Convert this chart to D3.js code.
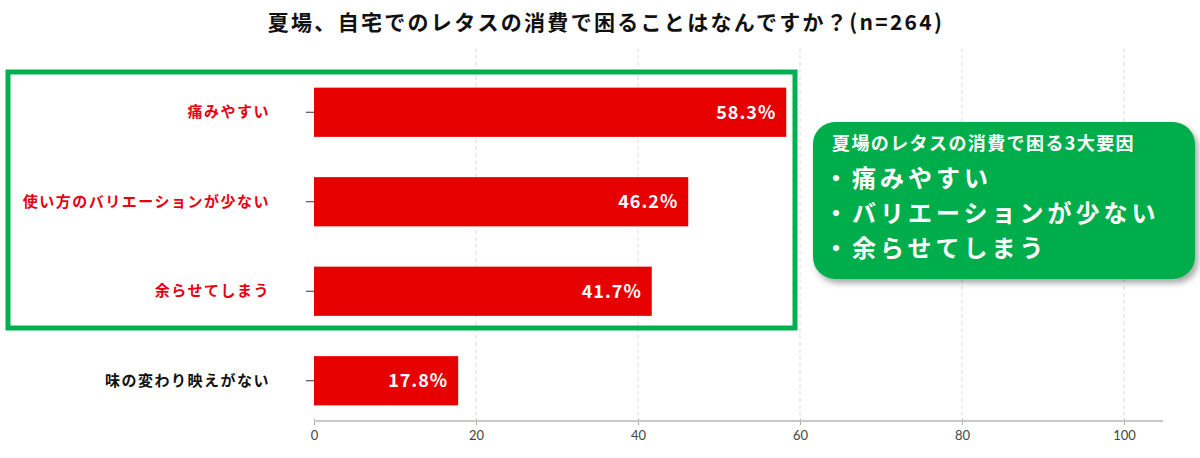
<!DOCTYPE html>
<html>
<head>
<meta charset="utf-8">
<script src="https://cdn.jsdelivr.net/npm/d3@7"></script>
<style>
  body { margin: 0; background: #fff; }
  text { font-family: "Noto Sans CJK JP", "Noto Sans", sans-serif; }
</style>
</head>
<body>
<div id="chart"></div>
<script>
var svgWidth = 1200;
var svgHeight = 458;

// data
var categories = ["痛みやすい", "使い方のバリエーションが少ない", "余らせてしまう", "味の変わり映えがない"];
var values = [58.3, 46.2, 41.7, 17.8];
var highlighted = [true, true, true, false];
var xTicks = [0, 20, 40, 60, 80, 100];
var boxLines = ["・痛みやすい", "・バリエーションが少ない", "・余らせてしまう"];

var data = categories.map((c, i) => ({ name: c, value: values[i], hi: highlighted[i] }));

var svg = d3.select("#chart")
    .append("svg")
    .attr("width", svgWidth)
    .attr("height", svgHeight);

var defs = svg.append("defs");
var shadow = defs.append("filter").attr("id", "shadow")
    .attr("x", "-10%").attr("y", "-10%").attr("width", "130%").attr("height", "130%");
shadow.append("feDropShadow")
    .attr("dx", 3).attr("dy", 4).attr("stdDeviation", 3)
    .attr("flood-color", "#000").attr("flood-opacity", 0.35);

var xScale = d3.scaleLinear()
    .domain([0, 100])
    .range([314, 1124]);

var yScale = d3.scaleBand()
    .domain(categories)
    .range([67.5, 425.5])
    .paddingInner(0.45)
    .paddingOuter(0.225);

var axisY = 421;

// title
svg.append("text")
    .attr("x", 606)
    .attr("y", 30)
    .attr("text-anchor", "middle")
    .attr("font-size", "21px")
    .attr("font-weight", "bold")
    .attr("letter-spacing", "2.3px")
    .attr("fill", "#111")
    .text("夏場、自宅でのレタスの消費で困ることはなんですか？(n=264)");

// dashed grid
svg.append("g")
    .selectAll("line")
    .data(xTicks.slice(1))
    .enter()
    .append("line")
    .attr("x1", d => xScale(d))
    .attr("x2", d => xScale(d))
    .attr("y1", 48)
    .attr("y2", axisY)
    .attr("stroke", "#dcdcdc")
    .attr("stroke-dasharray", "4,3");

// bottom axis
var bottomAxis = d3.axisBottom(xScale).tickValues(xTicks).tickSize(6).tickSizeOuter(0);
var xAxisG = svg.append("g")
    .attr("transform", `translate(0, ${axisY})`)
    .call(bottomAxis);
xAxisG.select(".domain").remove();
xAxisG.append("line")
    .attr("x1", xScale(0)).attr("x2", 1163)
    .attr("stroke", "#c8c8c8").attr("stroke-width", 2);
xAxisG.selectAll(".tick line").attr("stroke", "#aaa").attr("y1", -2).attr("y2", 4);
xAxisG.selectAll(".tick text")
    .attr("y", 10)
    .attr("font-size", "13px")
    .attr("fill", "#444")
    .style("font-family", "Lato, 'Noto Sans', sans-serif");

// left axis ticks
var leftAxis = d3.axisLeft(yScale).tickSize(8).tickPadding(36);
var yAxisG = svg.append("g")
    .attr("transform", `translate(${xScale(0)}, 0)`)
    .call(leftAxis);
yAxisG.select(".domain").remove();
yAxisG.selectAll(".tick line").attr("stroke", "#333");
yAxisG.selectAll(".tick text")
    .attr("font-size", "15px")
    .attr("font-weight", "bold")
    .attr("letter-spacing", "1.5px")
    .attr("fill", (d, i) => highlighted[i] ? "#e60012" : "#111");

// bars
svg.append("g")
    .selectAll("rect")
    .data(data)
    .enter()
    .append("rect")
    .attr("x", xScale(0))
    .attr("y", d => yScale(d.name))
    .attr("width", d => xScale(d.value) - xScale(0))
    .attr("height", yScale.bandwidth())
    .attr("fill", "#e60000");

// value labels
svg.append("g")
    .selectAll("text")
    .data(data)
    .enter()
    .append("text")
    .attr("x", d => xScale(d.value) - 10)
    .attr("y", d => yScale(d.name) + yScale.bandwidth() / 2)
    .attr("dy", "0.36em")
    .attr("text-anchor", "end")
    .attr("font-size", "18px")
    .attr("font-weight", "bold")
    .attr("letter-spacing", "1px")
    .attr("fill", "#fff")
    .text(d => d.value.toFixed(1) + "%");

// green highlight frame
svg.append("rect")
    .attr("x", 8)
    .attr("y", 72)
    .attr("width", 787)
    .attr("height", 256)
    .attr("fill", "none")
    .attr("stroke", "#00b050")
    .attr("stroke-width", 5);

// callout box
var box = svg.append("g");
box.append("rect")
    .attr("x", 813)
    .attr("y", 122)
    .attr("width", 382)
    .attr("height", 157)
    .attr("rx", 22)
    .attr("fill", "#00ad4c")
    .attr("filter", "url(#shadow)");
box.append("text")
    .attr("x", 832)
    .attr("y", 150)
    .attr("font-size", "18px")
    .attr("font-weight", "bold")
    .attr("letter-spacing", "1.4px")
    .attr("fill", "#fff")
    .text("夏場のレタスの消費で困る3大要因");
box.selectAll("text.line")
    .data(boxLines)
    .enter()
    .append("text")
    .attr("class", "line")
    .attr("x", 824)
    .attr("y", (d, i) => 187 + i * 35)
    .attr("font-size", "24px")
    .attr("font-weight", "bold")
    .attr("letter-spacing", "4px")
    .attr("fill", "#fff")
    .text(d => d);
</script>
</body>
</html>
